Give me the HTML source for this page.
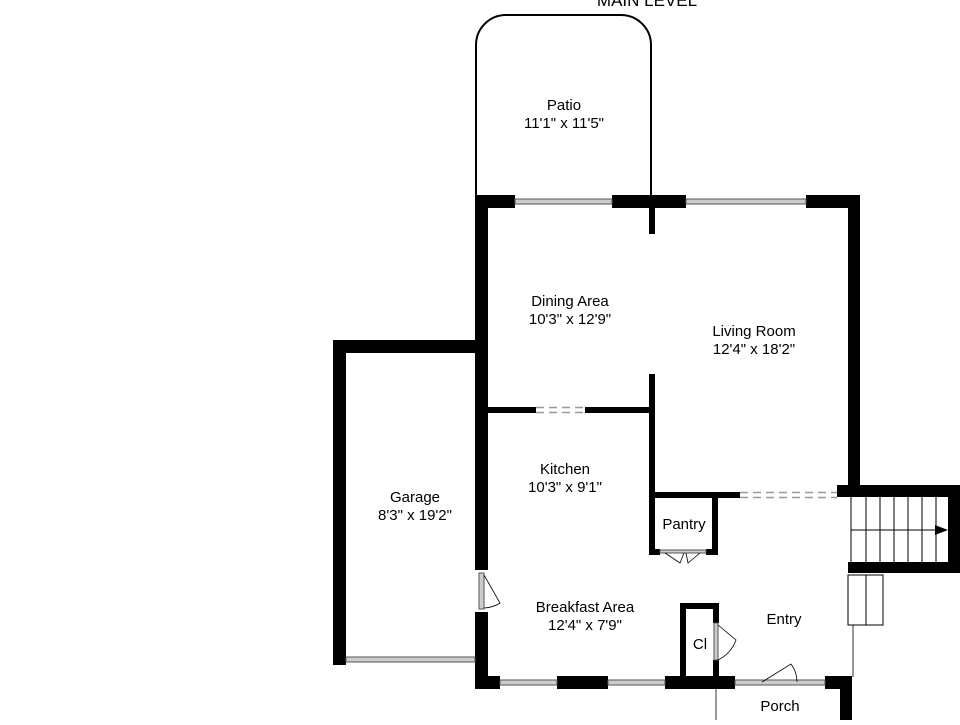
<!DOCTYPE html>
<html><head><style>
body{margin:0;background:#fff;width:960px;height:720px;overflow:hidden}
text{font-family:"Liberation Sans",Arial,sans-serif;font-size:15px;fill:#000;text-anchor:middle}
</style></head><body>
<svg width="960" height="720" viewBox="0 0 960 720" xmlns="http://www.w3.org/2000/svg">
<text x="647" y="6" style="font-size:17px">MAIN LEVEL</text>
<!-- patio -->
<path d="M476 195 V45 A30 30 0 0 1 506 15 H621 A30 30 0 0 1 651 45 V195" fill="none" stroke="#000" stroke-width="2"/>
<g fill="#000">
<rect x="475" y="195" width="40" height="13"/>
<rect x="612" y="195" width="74" height="13"/>
<rect x="806" y="195" width="54" height="13"/>
<rect x="649" y="208" width="6" height="26"/>
<rect x="475" y="195" width="13" height="375"/>
<rect x="475" y="612" width="13" height="77"/>
<rect x="848" y="195" width="12" height="300"/>
<rect x="333" y="340" width="13" height="325"/>
<rect x="333" y="340" width="142" height="13"/>
<rect x="488" y="407" width="48" height="6"/>
<rect x="585" y="407" width="65" height="6"/>
<rect x="649" y="374" width="6" height="181"/>
<rect x="649" y="492" width="91" height="6"/>
<rect x="837" y="485" width="23" height="12"/>
<rect x="712" y="492" width="6" height="63"/>
<rect x="649" y="549" width="11" height="6"/>
<rect x="706" y="549" width="12" height="6"/>
<rect x="848" y="485" width="112" height="12"/>
<rect x="948" y="485" width="12" height="88"/>
<rect x="848" y="562" width="112" height="11"/>
<rect x="475" y="676" width="25" height="13"/>
<rect x="557" y="676" width="51" height="13"/>
<rect x="665" y="676" width="70" height="13"/>
<rect x="825" y="676" width="27" height="13"/>
<rect x="840" y="676" width="12" height="44"/>
<rect x="680" y="603" width="6" height="74"/>
<rect x="680" y="603" width="39" height="6"/>
<rect x="713" y="603" width="6" height="20"/>
<rect x="713" y="660" width="6" height="17"/>
</g>
<g fill="#ccc" stroke="#555" stroke-width="1">
<rect x="515" y="199" width="97" height="5"/>
<rect x="686" y="199" width="120" height="5"/>
<rect x="346" y="657" width="129" height="5"/>
<rect x="500" y="680" width="57" height="5"/>
<rect x="608" y="680" width="57" height="5"/>
<rect x="735" y="680" width="90" height="5"/>
<rect x="479" y="573" width="5" height="36"/>
<rect x="714" y="623" width="4" height="37"/>
<rect x="660" y="550" width="46" height="3"/>
</g>
<g stroke="#999" stroke-width="1.5" stroke-dasharray="8,5" fill="none">
<path d="M536 407.5 H585 M536 412.5 H585"/>
<path d="M740 492.5 H837 M740 497.5 H837"/>
</g>
<g fill="none" stroke="#000" stroke-width="0.8">
<path d="M484 575 L500 603 A30 30 0 0 1 484 608"/>
<path d="M718 625 L736 640 A36 36 0 0 1 718 660"/>
<path d="M762 682 L791 664 A30 30 0 0 1 797 682"/>
<path d="M665 553 L680 563 L684 553 M700 553 L688 563 L686 553"/>
<path d="M716 689 V720"/>
<path d="M853 625 V677"/>
</g>
<g fill="none" stroke="#000" stroke-width="1">
<path d="M851 497 V562 M866 497 V562 M880 497 V562 M894 497 V562 M908 497 V562 M922 497 V562 M936 497 V562"/>
<path d="M851 530 H935"/>
<rect x="848" y="575" width="35" height="50"/>
<path d="M866 575 V625"/>
</g>
<polygon points="935,525 948,530 935,535" fill="#000"/>
<text x="564" y="110">Patio</text><text x="564" y="128">11'1" x 11'5"</text>
<text x="570" y="306">Dining Area</text><text x="570" y="324">10'3" x 12'9"</text>
<text x="754" y="336">Living Room</text><text x="754" y="354">12'4" x 18'2"</text>
<text x="565" y="474">Kitchen</text><text x="565" y="492">10'3" x 9'1"</text>
<text x="415" y="502">Garage</text><text x="415" y="520">8'3" x 19'2"</text>
<text x="684" y="529">Pantry</text>
<text x="585" y="612">Breakfast Area</text><text x="585" y="630">12'4" x 7'9"</text>
<text x="784" y="624">Entry</text>
<text x="700" y="649">Cl</text>
<text x="780" y="711">Porch</text>
</svg>
</body></html>
